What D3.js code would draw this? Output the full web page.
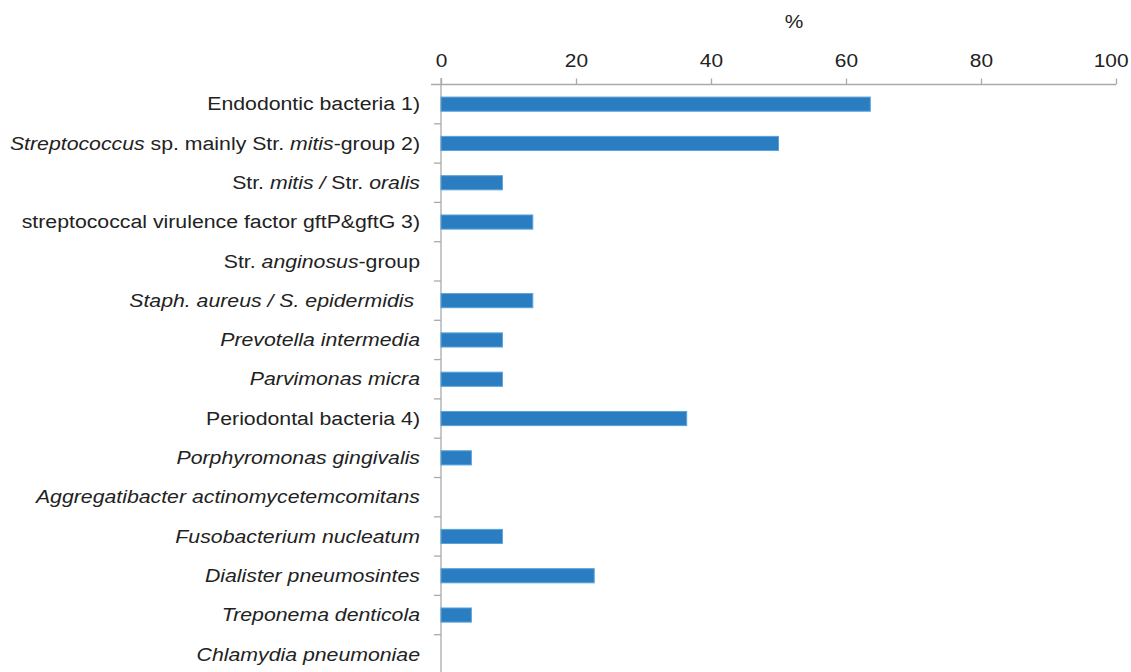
<!DOCTYPE html>
<html>
<head>
<meta charset="utf-8">
<script src="https://cdn.jsdelivr.net/npm/d3@7"></script>
<style>
  body { margin: 0; background: #fff; }
  text { font-family: "Liberation Sans", Arial, sans-serif; fill: #222; }
</style>
</head>
<body>
<div id="chart"></div>
<script>
// categories, italic parts wrapped in _ _
var categories = [
  "Endodontic bacteria 1)",
  "_Streptococcus_ sp. mainly Str. _mitis_-group 2)",
  "Str. _mitis / _Str. _oralis_",
  "streptococcal virulence factor gftP&gftG 3)",
  "Str. _anginosus_-group",
  "_Staph. aureus / S. epidermidis _",
  "_Prevotella intermedia_",
  "_Parvimonas micra_",
  "Periodontal bacteria 4)",
  "_Porphyromonas gingivalis_",
  "_Aggregatibacter actinomycetemcomitans_",
  "_Fusobacterium nucleatum_",
  "_Dialister pneumosintes_",
  "_Treponema denticola_",
  "_Chlamydia pneumoniae_"
];
var values = [63.6, 50.0, 9.1, 13.6, 0, 13.6, 9.1, 9.1, 36.4, 4.5, 0, 9.1, 22.7, 4.5, 0];
var xTicks = [0, 20, 40, 60, 80, 100];

var width = 1131, height = 672;
var svg = d3.select("#chart").append("svg")
  .attr("width", width)
  .attr("height", height);

var x = d3.scaleLinear().domain([0, 100]).range([441, 1116]);
var y = d3.scaleBand().domain(d3.range(categories.length)).range([84.5, 84.5 + 39.3 * categories.length]).padding(0);

// % title
svg.append("text")
  .attr("transform", "translate(794,28) scale(1.1,1)")
  .attr("text-anchor", "middle")
  .style("font-size", "19px")
  .text("%");

// top axis
var xAxis = svg.append("g")
  .attr("transform", "translate(0,84.5)")
  .call(d3.axisTop(x).tickValues(xTicks).tickSize(6).tickPadding(12).tickSizeOuter(0));
xAxis.select(".domain").attr("stroke", "#aaa").attr("stroke-width", 1.3).attr("d", "M431,0H1116");
xAxis.selectAll(".tick line").attr("stroke", "#aaa").attr("stroke-width", 1.3);
xAxis.selectAll(".tick text")
  .style("font-size", "19px")
  .attr("fill", "#222")
  .attr("transform", "scale(1.1,1)");
// last label sits a bit left of its tick in the original
xAxis.selectAll(".tick text").filter(function(d) { return d === 100; })
  .attr("text-anchor", "end").attr("x", 11);

// left axis line and category ticks
svg.append("line")
  .attr("x1", x(0)).attr("x2", x(0))
  .attr("y1", 78).attr("y2", height)
  .attr("stroke", "#aaa").attr("stroke-width", 1.3);
svg.selectAll(".ytick")
  .data(d3.range(1, categories.length))
  .enter().append("line")
  .attr("class", "ytick")
  .attr("x1", x(0) - 7).attr("x2", x(0))
  .attr("y1", function(d) { return y(d); })
  .attr("y2", function(d) { return y(d); })
  .attr("stroke", "#aaa").attr("stroke-width", 1.3);

// bars
var barH = y.bandwidth() * 0.36;
svg.selectAll(".bar")
  .data(values)
  .enter().append("rect")
  .attr("class", "bar")
  .attr("x", x(0))
  .attr("y", function(d, i) { return y(i) + y.bandwidth() / 2 - barH / 2; })
  .attr("width", function(d) { return x(d) - x(0); })
  .attr("height", barH)
  .attr("fill", "#2a7dc0")
  .attr("stroke", function(d) { return d > 0 ? "#5aa3dc" : "none"; })
  .attr("stroke-width", 1);

// category labels with italic parts
var labels = svg.selectAll(".lab")
  .data(categories)
  .enter().append("text")
  .attr("class", "lab")
  .attr("transform", function(d, i) {
    return "translate(420," + (y(i) + y.bandwidth() / 2 - 0.5) + ") scale(1.12,1)";
  })
  .attr("dy", "0.35em")
  .attr("text-anchor", "end")
  .style("font-size", "19px")
  .style("white-space", "pre");

labels.each(function(d) {
  var parts = d.split("_");
  var t = d3.select(this);
  parts.forEach(function(p, k) {
    if (p === "") return;
    t.append("tspan")
      .style("font-style", k % 2 === 1 ? "italic" : "normal")
      .text(p);
  });
});
</script>
</body>
</html>
